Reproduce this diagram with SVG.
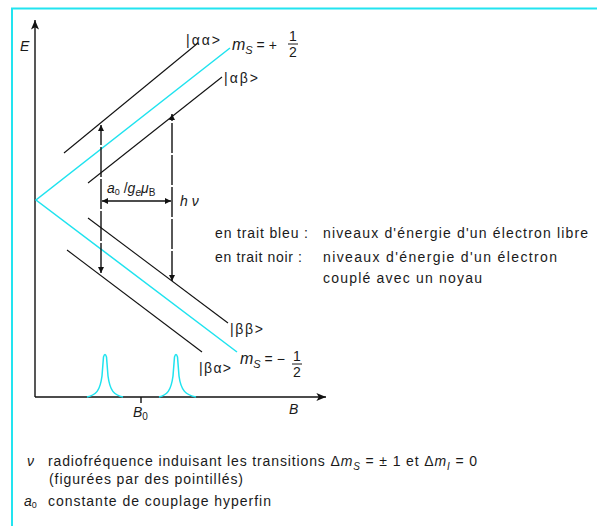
<svg xmlns="http://www.w3.org/2000/svg" width="597" height="526" viewBox="0 0 597 526">
<style>
.cy{stroke:#1fe3ef;stroke-width:1.5;fill:none}
.lv{stroke:#111;stroke-width:1.1;fill:none}
.ax{stroke:#111;stroke-width:1.4;fill:none}
.tr{stroke:#111;stroke-width:1.4;fill:none;stroke-dasharray:30 2}
.t{font-family:"Liberation Sans",Arial,sans-serif;font-size:14px;fill:#1a1a1a}
.k{font-family:"Liberation Sans","DejaVu Sans",sans-serif;font-size:14px;fill:#1a1a1a}
.i{font-style:italic}
</style>
<defs>
<marker id="ah" viewBox="0 0 10 10" refX="10" refY="5" markerWidth="8" markerHeight="6" orient="auto-start-reverse" markerUnits="userSpaceOnUse">
<path d="M0,0 L10,5 L0,10 z" fill="#111"/>
</marker>
<marker id="axh" viewBox="0 0 12 10" refX="12" refY="5" markerWidth="12" markerHeight="8" orient="auto" markerUnits="userSpaceOnUse">
<path d="M0,0 L12,5 L0,10 L3,5 z" fill="#111"/>
</marker>
</defs>

<g id="frame">
<path d="M12,526 V8.5 H597" stroke="#22e4f0" stroke-width="2" fill="none"/>
</g>

<g id="axes">
<line class="ax" x1="35" y1="397" x2="35" y2="20" marker-end="url(#axh)"/>
<line class="ax" x1="35" y1="397" x2="326" y2="397" marker-end="url(#axh)"/>
<line class="ax" x1="141" y1="397" x2="141" y2="403"/>
<text class="t i" x="20" y="51">E</text>
<text class="t i" x="289" y="414">B</text>
<text class="t i" x="133" y="417">B<tspan font-size="10" dy="3" font-style="normal">0</tspan></text>
</g>

<g id="free-electron">
<polyline class="cy" points="230,48 36,200 237,352"/>
<text class="t" x="232" y="50"><tspan class="i" font-size="16">m</tspan><tspan class="i" font-size="11" dy="4">S</tspan><tspan dy="-4"> = +</tspan></text>
<text class="t" x="289" y="41" font-size="15">1</text>
<line x1="288" y1="44" x2="298" y2="44" stroke="#1a1a1a" stroke-width="1"/>
<text class="t" x="289" y="57" font-size="15">2</text>
<text class="t" x="240" y="364"><tspan class="i" font-size="16">m</tspan><tspan class="i" font-size="11" dy="4">S</tspan><tspan dy="-4"> = −</tspan></text>
<text class="t" x="293" y="361" font-size="15">1</text>
<line x1="292" y1="364" x2="302" y2="364" stroke="#1a1a1a" stroke-width="1"/>
<text class="t" x="293" y="377" font-size="15">2</text>
</g>

<g id="level-aa">
<line class="lv" x1="64" y1="153" x2="198" y2="43"/>
<text class="k" x="186" y="45" textLength="34" lengthAdjust="spacing">|αα&gt;</text>
</g>
<g id="level-ab">
<line class="lv" x1="88" y1="183" x2="222" y2="77"/>
<text class="k" x="224" y="83" textLength="34" lengthAdjust="spacing">|αβ&gt;</text>
</g>
<g id="level-bb">
<line class="lv" x1="88" y1="218" x2="228" y2="323"/>
<text class="k" x="230" y="334" textLength="33" lengthAdjust="spacing">|ββ&gt;</text>
</g>
<g id="level-ba">
<line class="lv" x1="67" y1="250" x2="202" y2="352"/>
<text class="k" x="199" y="373" textLength="32" lengthAdjust="spacing">|βα&gt;</text>
</g>

<g id="spectrum">
<path class="cy" d="M87,397 C96,395 100,391 102,376 L103.5,357 Q105,352 106.5,357 L108,376 C110,391 114,395 123,397"/>
<path class="cy" d="M159,397 C167,395 171,391 173,376 L174.5,357 Q176,352 177.5,357 L179,376 C181,391 186,395 196,397"/>
</g>

<g id="connectors">
<line class="tr" x1="101" y1="273" x2="101" y2="125" marker-start="url(#ah)" marker-end="url(#ah)"/>
<line class="tr" x1="172" y1="281" x2="172" y2="114" marker-start="url(#ah)" marker-end="url(#ah)"/>
<line x1="102" y1="201" x2="171" y2="201" stroke="#111" stroke-width="1.4" marker-start="url(#ah)" marker-end="url(#ah)"/>
</g>

<g id="labels">
<text class="t" x="107" y="193"><tspan class="i">a</tspan><tspan font-size="9" dy="2">0</tspan><tspan dy="-2"> /</tspan><tspan class="i">g</tspan><tspan class="i" font-size="10" dy="3">e</tspan><tspan class="i" dy="-3">μ</tspan><tspan font-size="10" dy="3">B</tspan></text>
<text class="t i" x="180" y="206">h ν</text>
</g>

<g id="legend">
<text class="t" x="215" y="238" textLength="93" lengthAdjust="spacing">en trait bleu :</text>
<text class="t" x="323" y="238" textLength="265" lengthAdjust="spacing">niveaux d'énergie d'un électron libre</text>
<text class="t" x="215" y="262" textLength="87" lengthAdjust="spacing">en trait noir :</text>
<text class="t" x="323" y="262" textLength="234" lengthAdjust="spacing">niveaux d'énergie d'un électron</text>
<text class="t" x="323" y="283" textLength="159" lengthAdjust="spacing">couplé avec un noyau</text>
</g>

<g id="notes">
<text class="t i" x="27" y="466">ν</text>
<text class="t" x="48" y="466" textLength="429" lengthAdjust="spacing">radiofréquence induisant les transitions <tspan>Δ</tspan><tspan class="i">m</tspan><tspan class="i" font-size="10" dy="4">S</tspan><tspan dy="-4"> = ± 1 et Δ</tspan><tspan class="i">m</tspan><tspan class="i" font-size="10" dy="4">I</tspan><tspan dy="-4"> = 0</tspan></text>
<text class="t" x="49" y="484" textLength="194" lengthAdjust="spacing">(figurées par des pointillés)</text>
<text class="t i" x="24" y="506">a<tspan font-size="9" dy="2" font-style="normal">0</tspan></text>
<text class="t" x="48" y="506" textLength="223" lengthAdjust="spacing">constante de couplage hyperfin</text>
</g>
</svg>
